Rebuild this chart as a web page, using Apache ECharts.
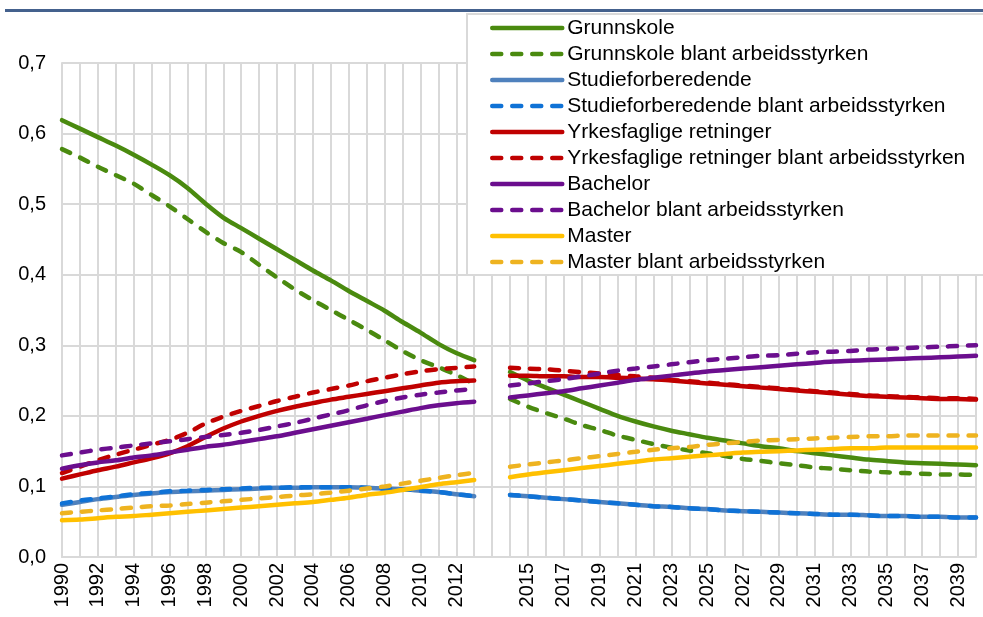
<!DOCTYPE html>
<html>
<head>
<meta charset="utf-8">
<script src="https://cdn.jsdelivr.net/npm/echarts@6/dist/echarts.min.js"></script>
<style>
  html, body { margin: 0; padding: 0; background: #fff; }
  #chart { width: 983px; height: 617px; }
</style>
</head>
<body>
<div id="chart"></div>
<script>
// x-axis: 1990-2013, one empty slot, then 2014-2040
const years = []
for (let y = 1990; y <= 2013; y++) years.push(String(y))
years.push('')
for (let y = 2014; y <= 2040; y++) years.push(String(y))

const yTicks = [0, 0.1, 0.2, 0.3, 0.4, 0.5, 0.6, 0.7]

// history 1990-2013 and projection 2014-2040 (null = gap)
const grunnskole = [
  0.619, 0.607, 0.595, 0.583, 0.570, 0.556, 0.541, 0.523, 0.501, 0.481, 0.466, 0.451,
  0.436, 0.421, 0.406, 0.392, 0.377, 0.363, 0.349, 0.333, 0.318, 0.302, 0.289, 0.279,
  null,
  0.262, 0.250, 0.240, 0.230, 0.220, 0.210, 0.200, 0.192, 0.185, 0.179, 0.174, 0.169,
  0.165, 0.161, 0.157, 0.154, 0.150, 0.147, 0.144, 0.141, 0.138, 0.136, 0.134, 0.133,
  0.132, 0.131, 0.130
]
const grunnskoleAS = [
  0.578, 0.566, 0.553, 0.541, 0.529, 0.513, 0.497, 0.479, 0.461, 0.445, 0.432, 0.414,
  0.396, 0.379, 0.364, 0.350, 0.336, 0.322, 0.307, 0.292, 0.279, 0.269, 0.258, 0.245,
  null,
  0.224, 0.213, 0.204, 0.196, 0.187, 0.180, 0.172, 0.166, 0.160, 0.155, 0.151, 0.147,
  0.143, 0.139, 0.136, 0.133, 0.130, 0.127, 0.125, 0.123, 0.121, 0.120, 0.119, 0.118,
  0.117, 0.117, 0.116
]
const studie = [
  0.074, 0.078, 0.082, 0.085, 0.088, 0.090, 0.092, 0.093, 0.094, 0.095, 0.096, 0.097,
  0.098, 0.098, 0.099, 0.099, 0.099, 0.098, 0.097, 0.096, 0.094, 0.092, 0.089, 0.086,
  null,
  0.088, 0.086, 0.084, 0.082, 0.080, 0.078, 0.076, 0.074, 0.072, 0.071, 0.069, 0.068,
  0.066, 0.065, 0.064, 0.063, 0.062, 0.061, 0.060, 0.060, 0.059, 0.058, 0.058, 0.057,
  0.057, 0.056, 0.056
]
const studieAS = [
  0.076, 0.080, 0.083, 0.086, 0.089, 0.091, 0.093, 0.094, 0.095, 0.096, 0.097, 0.098,
  0.098, 0.099, 0.099, 0.099, 0.099, 0.098, 0.097, 0.096, 0.094, 0.092, 0.089, 0.086,
  null,
  0.088, 0.086, 0.084, 0.082, 0.080, 0.078, 0.076, 0.074, 0.072, 0.071, 0.069, 0.068,
  0.066, 0.065, 0.064, 0.063, 0.062, 0.061, 0.060, 0.060, 0.059, 0.058, 0.058, 0.057,
  0.057, 0.056, 0.056
]
const yrkesfag = [
  0.111, 0.117, 0.123, 0.128, 0.134, 0.140, 0.147, 0.157, 0.170, 0.182, 0.192, 0.200,
  0.207, 0.213, 0.218, 0.223, 0.227, 0.231, 0.235, 0.239, 0.243, 0.247, 0.249, 0.250,
  null,
  0.257, 0.257, 0.256, 0.256, 0.255, 0.255, 0.254, 0.253, 0.252, 0.250, 0.248, 0.246,
  0.244, 0.242, 0.240, 0.238, 0.236, 0.234, 0.232, 0.230, 0.228, 0.227, 0.226, 0.225,
  0.224, 0.224, 0.223
]
const yrkesfagAS = [
  0.119, 0.128, 0.137, 0.145, 0.152, 0.159, 0.166, 0.176, 0.189, 0.199, 0.207, 0.214,
  0.221, 0.227, 0.233, 0.238, 0.243, 0.249, 0.254, 0.259, 0.263, 0.266, 0.268, 0.270,
  null,
  0.268, 0.267, 0.266, 0.264, 0.262, 0.260, 0.258, 0.256, 0.254, 0.251, 0.249, 0.247,
  0.245, 0.243, 0.241, 0.239, 0.237, 0.235, 0.233, 0.231, 0.229, 0.228, 0.227, 0.226,
  0.225, 0.225, 0.224
]
const bachelor = [
  0.125, 0.130, 0.134, 0.137, 0.141, 0.144, 0.148, 0.152, 0.156, 0.159, 0.163, 0.167,
  0.171, 0.176, 0.181, 0.186, 0.191, 0.196, 0.201, 0.206, 0.211, 0.215, 0.218, 0.220,
  null,
  0.226, 0.229, 0.232, 0.235, 0.239, 0.243, 0.247, 0.251, 0.254, 0.257, 0.260, 0.263,
  0.265, 0.267, 0.269, 0.271, 0.273, 0.275, 0.277, 0.278, 0.279, 0.280, 0.281, 0.282,
  0.283, 0.284, 0.285
]
const bachelorAS = [
  0.144, 0.148, 0.152, 0.155, 0.158, 0.161, 0.164, 0.167, 0.170, 0.173, 0.176, 0.180,
  0.185, 0.190, 0.196, 0.202, 0.208, 0.215, 0.221, 0.226, 0.230, 0.233, 0.236, 0.238,
  null,
  0.243, 0.246, 0.249, 0.252, 0.256, 0.260, 0.264, 0.267, 0.270, 0.273, 0.276, 0.279,
  0.281, 0.283, 0.285, 0.286, 0.288, 0.290, 0.291, 0.292, 0.294, 0.295, 0.296, 0.297,
  0.298, 0.299, 0.300
]
const master = [
  0.052, 0.053, 0.055, 0.057, 0.058, 0.060, 0.062, 0.064, 0.066, 0.068, 0.070, 0.072,
  0.074, 0.076, 0.078, 0.081, 0.084, 0.088, 0.091, 0.095, 0.099, 0.103, 0.106, 0.109,
  null,
  0.113, 0.117, 0.120, 0.123, 0.126, 0.129, 0.132, 0.135, 0.138, 0.140, 0.142, 0.144,
  0.146, 0.148, 0.149, 0.150, 0.151, 0.152, 0.153, 0.154, 0.154, 0.155, 0.155, 0.155,
  0.155, 0.155, 0.155
]
const masterAS = [
  0.062, 0.064, 0.066, 0.068, 0.070, 0.072, 0.073, 0.075, 0.077, 0.079, 0.081, 0.083,
  0.085, 0.087, 0.089, 0.091, 0.094, 0.097, 0.100, 0.104, 0.108, 0.112, 0.116, 0.119,
  null,
  0.128, 0.131, 0.134, 0.137, 0.140, 0.143, 0.146, 0.149, 0.152, 0.154, 0.156, 0.159,
  0.161, 0.163, 0.165, 0.166, 0.167, 0.168, 0.169, 0.170, 0.171, 0.171, 0.172, 0.172,
  0.172, 0.172, 0.172
]

const FONT = '"Liberation Sans", Arial, sans-serif'
const DASH = [9, 11]

const mkLine = (name, data, color, dashed) => ({
  name,
  type: 'line',
  data,
  smooth: 0.3,
  symbol: 'none',
  connectNulls: false,
  lineStyle: { width: 4.5, color, type: dashed ? DASH : 'solid', cap: 'round' },
  itemStyle: { color },
  emphasis: { disabled: true }
})

const chart = echarts.init(document.getElementById('chart'), null, { renderer: 'canvas' })

chart.setOption({
  animation: false,
  backgroundColor: '#fff',
  textStyle: { fontFamily: FONT },
  graphic: [
    {
      type: 'rect',
      shape: { x: 5, y: 9, width: 990, height: 3 },
      style: { fill: '#44618d' },
      z: 10
    }
  ],
  grid: { left: 62, right: 7, top: 63, bottom: 60, containLabel: false },
  legend: {
    orient: 'vertical',
    left: 467,
    top: 14,
    padding: [3, 40, 2, 23],
    backgroundColor: '#fff',
    borderColor: '#d9d9d9',
    borderWidth: 2,
    itemWidth: 70,
    itemHeight: 14,
    itemGap: 4,
    // hide the marker dot, keep only the line sample
    itemStyle: { opacity: 0 },
    lineStyle: { width: 4.5, cap: 'round' },
    textStyle: { fontFamily: FONT, fontSize: 21, color: '#000', lineHeight: 22 },
    data: [
      'Grunnskole', 'Grunnskole blant arbeidsstyrken',
      'Studieforberedende', 'Studieforberedende blant arbeidsstyrken',
      'Yrkesfaglige retninger', 'Yrkesfaglige retninger blant arbeidsstyrken',
      'Bachelor', 'Bachelor blant arbeidsstyrken',
      'Master', 'Master blant arbeidsstyrken'
    ]
  },
  xAxis: {
    type: 'category',
    data: years,
    boundaryGap: false,
    axisLine: { lineStyle: { color: '#d9d9d9', width: 2 } },
    axisTick: { show: false },
    axisLabel: {
      interval: 1,
      rotate: 90,
      margin: 6,
      fontFamily: FONT,
      fontSize: 20,
      color: '#000'
    },
    splitLine: { show: true, interval: 0, lineStyle: { color: '#d9d9d9', width: 2 } }
  },
  yAxis: {
    type: 'value',
    min: yTicks[0],
    max: yTicks[yTicks.length - 1],
    interval: 0.1,
    axisLine: { show: true, lineStyle: { color: '#d9d9d9', width: 2 } },
    axisTick: { show: false },
    axisLabel: {
      margin: 16,
      fontFamily: FONT,
      fontSize: 20,
      color: '#000',
      formatter: v => v.toFixed(1).replace('.', ',')
    },
    splitLine: { show: true, lineStyle: { color: '#d9d9d9', width: 2 } }
  },
  series: [
    mkLine('Grunnskole', grunnskole, '#4a8a0f', false),
    mkLine('Grunnskole blant arbeidsstyrken', grunnskoleAS, '#4a8a0f', true),
    mkLine('Studieforberedende', studie, '#4f81bd', false),
    mkLine('Studieforberedende blant arbeidsstyrken', studieAS, '#0f72d6', true),
    mkLine('Yrkesfaglige retninger', yrkesfag, '#c00000', false),
    mkLine('Yrkesfaglige retninger blant arbeidsstyrken', yrkesfagAS, '#c00000', true),
    mkLine('Bachelor', bachelor, '#6b0e8e', false),
    mkLine('Bachelor blant arbeidsstyrken', bachelorAS, '#6b0e8e', true),
    mkLine('Master', master, '#ffc000', false),
    mkLine('Master blant arbeidsstyrken', masterAS, '#eeb320', true)
  ]
})
</script>
</body>
</html>
